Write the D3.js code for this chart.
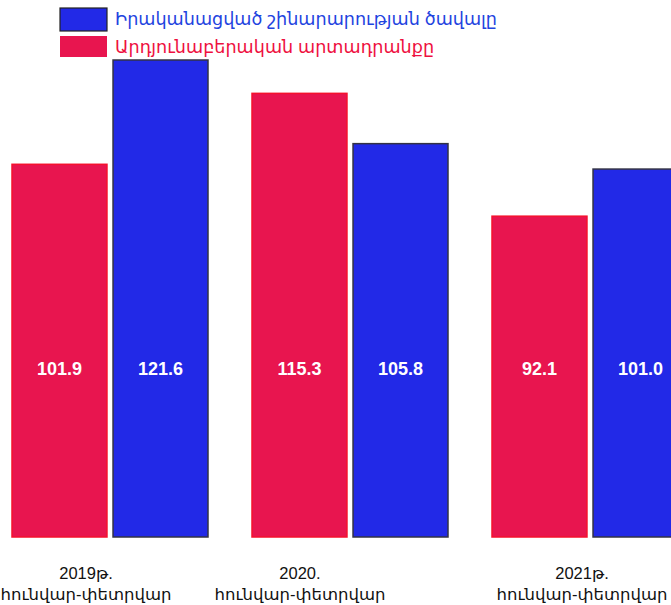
<!DOCTYPE html>
<html>
<head>
<meta charset="utf-8">
<script src="https://cdn.jsdelivr.net/npm/d3@7"></script>
<style>
  html, body { margin: 0; padding: 0; background: #ffffff; }
  svg { display: block; }
</style>
</head>
<body>
<svg id="chart" width="671" height="605"></svg>
<script>
// ---- data ----
const categories = ["2019թ.", "2020.", "2021թ."];
const subLabel = "հունվար-փետրվար";
const seriesNames = ["Արդյունաբերական արտադրանքը", "Իրականացված շինարարության ծավալը"];
const industry = [101.9, 115.3, 92.1];
const construction = [121.6, 105.8, 101.0];

const fills = ["#E8154F", "#2229E7"];
const strokes = ["#F5102E", "#333344"];
const textColors = ["#EE1040", "#1F44E0"];

const svg = d3.select("#chart");
const font = "'Liberation Sans', Arial, 'DejaVu Sans', sans-serif";

// scales
const x0 = d3.scaleBand().domain(categories).range([12, 732]).paddingInner(0).paddingOuter(0);
const x1 = d3.scaleBand().domain([0, 1]).range([0, 196]).paddingInner(0.06);
const y = d3.scaleLinear().domain([31.5, 121.6]).range([537, 60]);

const rows = categories.map((c, i) => ({ cat: c, vals: [industry[i], construction[i]] }));

const g = svg.append("g");
const groups = g.selectAll("g.grp").data(rows).join("g")
  .attr("class", "grp")
  .attr("transform", d => `translate(${x0(d.cat)},0)`);

groups.selectAll("rect").data(d => d.vals.map((v, k) => ({ v, k }))).join("rect")
  .attr("x", d => x1(d.k))
  .attr("y", d => y(d.v))
  .attr("width", x1.bandwidth())
  .attr("height", d => y.range()[0] - y(d.v))
  .attr("fill", d => fills[d.k])
  .attr("stroke", d => strokes[d.k])
  .attr("stroke-width", 1.5);

groups.selectAll("text.val").data(d => d.vals.map((v, k) => ({ v, k }))).join("text")
  .attr("class", "val")
  .attr("x", d => x1(d.k) + x1.bandwidth() / 2)
  .attr("y", 375)
  .attr("text-anchor", "middle")
  .attr("fill", "#ffffff")
  .attr("font-family", font)
  .attr("font-weight", "bold")
  .attr("font-size", 18)
  .text(d => d.v.toFixed(1));

// category labels
const labelX = d3.scaleOrdinal().domain(categories).range([86, 300, 582]);
const xl = svg.append("g");
categories.forEach(c => {
  const t = xl.append("text")
    .attr("text-anchor", "middle")
    .attr("font-family", font)
    .attr("font-size", 16.5)
    .attr("fill", "#111");
  t.append("tspan").attr("x", labelX(c)).attr("y", 579).text(c);
  t.append("tspan").attr("x", labelX(c)).attr("y", 600).text(subLabel);
});

// legend
const legendOrder = [1, 0];
const leg = svg.append("g");
legendOrder.forEach((k, i) => {
  const yy = 8 + i * 28;
  leg.append("rect")
    .attr("x", 60).attr("y", yy)
    .attr("width", 47).attr("height", k === 1 ? 23 : 21)
    .attr("fill", fills[k])
    .attr("stroke", k === 1 ? "#222" : "none")
    .attr("stroke-width", 1.2);
  leg.append("text")
    .attr("x", 115).attr("y", yy + 17)
    .attr("font-family", font)
    .attr("font-size", 17.6)
    .attr("fill", textColors[k])
    .text(seriesNames[k]);
});
</script>
</body>
</html>
